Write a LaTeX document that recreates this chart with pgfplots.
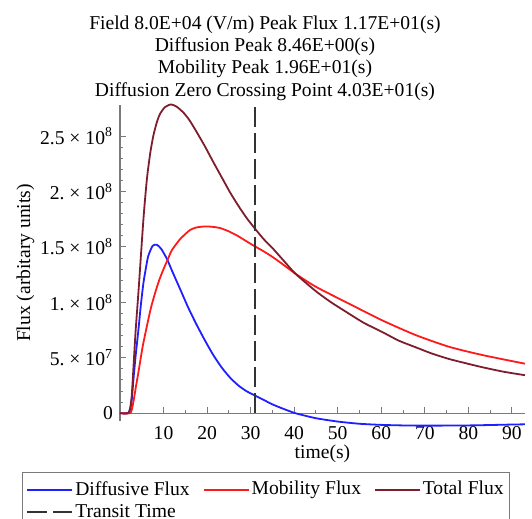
\documentclass[border=0pt]{standalone}
\usepackage{fontspec}
\setmainfont{Liberation Serif}
\usepackage{pgfplots}
\pgfplotsset{compat=1.18}
\definecolor{diffBlue}{HTML}{1F1FFF}
\definecolor{mobRed}{HTML}{FF1A1A}
\definecolor{totMaroon}{HTML}{7E1E2C}
\definecolor{axGrey}{HTML}{7A7A7A}
\definecolor{dashGrey}{HTML}{333333}

\begin{document}
\begin{tikzpicture}[font=\fontsize{9.8pt}{11.2pt}\selectfont]
\begin{axis}[
  width=202.5pt, height=158pt, scale only axis,
  xmin=0, xmax=93, ymin=-7e6, ymax=2.78e8,
  clip=false,
  axis lines=middle,
  axis line style={draw=axGrey, line width=0.7pt, -},
  xtick={10,20,...,90}, minor x tick num=1,
  ytick={0,5e7,1e8,1.5e8,2e8,2.5e8},
  yticklabels={0, 5.~×~10\textsuperscript{7}, 1.~×~10\textsuperscript{8},
    1.5~×~10\textsuperscript{8}, 2.~×~10\textsuperscript{8}, 2.5~×~10\textsuperscript{8}},
  minor y tick num=4,
  scaled y ticks=false,
  hide obscured y ticks=false,
  tick align=inside, major tick length=3pt, minor tick length=1.5pt,
  tick style={axGrey, line width=0.5pt},
  /pgf/number format/assume math mode=true,
  tick label style={font=\fontsize{9.8pt}{11.2pt}\selectfont, black},
  xticklabel style={yshift=-3pt},
  title={Field 8.0E+04 (V/m) Peak Flux 1.17E+01(s)\\Diffusion Peak 8.46E+00(s)\\Mobility Peak 1.96E+01(s)\\Diffusion Zero Crossing Point 4.03E+01(s)},
  every axis title shift=0pt,
  title style={at={(0.5,1)}, anchor=south, align=center, inner sep=0pt, xshift=-28.75pt, yshift=2pt},
  xlabel={time(s)},
  ylabel={Flux (arbitary units)},
  every axis x label/.style={at={(axis description cs:0.5,0)}, anchor=center, yshift=-16.5pt},
  every axis y label/.style={at={(axis description cs:0,0.5)}, anchor=center, rotate=90, yshift=47.25pt},
  legend columns=3,
  legend image code/.code={\draw[#1] (0pt,0pt) -- (22.5pt,0pt);},
  legend style={at={(axis description cs:0,0)}, anchor=north west,
    xshift=-49.15pt, yshift=-25.35pt, draw=axGrey, line width=0.6pt,
    inner xsep=2pt, inner ysep=3.5pt, row sep=1.2pt,
    nodes={inner sep=1pt, anchor=west},
    /tikz/every even column/.append style={column sep=5.5pt}},
]
\addplot[diffBlue, line width=0.9pt, smooth, tension=0.4] coordinates {
  (0,0) (1.8,0) (2.3,0.03e8) (2.7,0.12e8) (3.1,0.31e8) (3.6,0.52e8) (4.25,0.76e8)
  (4.8,0.98e8) (5.4,1.18e8) (6,1.32e8) (6.5,1.42e8) (7.5,1.51e8) (8.46,1.52e8)
  (9.5,1.48e8) (10.8,1.39e8) (12,1.28e8) (13.8,1.12e8) (15.7,0.95e8) (17.7,0.79e8)
  (19.6,0.65e8) (21.5,0.52e8) (23.4,0.41e8) (25.3,0.32e8) (27.2,0.25e8) (29,0.2e8)
  (31,0.16e8) (33,0.12e8) (35,0.08e8) (37.5,0.04e8) (40.3,0) (45,-0.045e8)
  (50,-0.075e8) (55,-0.095e8) (60,-0.105e8) (65,-0.11e8) (70,-0.112e8)
  (80,-0.11e8) (90,-0.102e8) (93,-0.1e8)
};
\addlegendentry{Diffusive Flux}
\addplot[mobRed, line width=0.9pt, smooth, tension=0.4] coordinates {
  (0,0) (2.2,0) (2.7,0.03e8) (3.2,0.13e8) (3.7,0.25e8) (4.25,0.374e8) (5.2,0.6e8)
  (6.2,0.79e8) (7.1,0.95e8) (8.1,1.09e8) (9,1.2e8) (10,1.3e8) (11,1.39e8)
  (11.9,1.47e8) (13.8,1.57e8) (16,1.65e8) (17.5,1.675e8) (19.6,1.685e8)
  (21.5,1.68e8) (23,1.67e8) (25,1.64e8) (27,1.6e8) (29.5,1.54e8) (31.2,1.5e8)
  (33,1.46e8) (35,1.41e8) (37.5,1.34e8) (40.3,1.258e8) (45,1.14e8) (52.5,0.99e8)
  (60.2,0.838e8) (67.9,0.705e8) (75.5,0.6e8) (83.2,0.525e8) (93,0.447e8)
};
\addlegendentry{Mobility Flux}
\addplot[totMaroon, line width=0.9pt, smooth, tension=0.4] coordinates {
  (0,0) (1.8,0) (2.3,0.04e8) (2.7,0.16e8) (3.1,0.42e8) (3.6,0.75e8) (4.25,1.1e8)
  (5.4,1.76e8) (6.2,2.12e8) (7,2.36e8) (7.7,2.51e8) (8.5,2.63e8) (9.2,2.7e8)
  (10.3,2.76e8) (11.7,2.785e8) (13,2.765e8) (14.6,2.71e8) (16,2.64e8)
  (17.7,2.53e8) (19.6,2.4e8) (21.5,2.26e8) (23.4,2.125e8) (25.3,1.99e8)
  (27.2,1.87e8) (29.1,1.76e8) (31.1,1.66e8) (33,1.57e8) (35,1.49e8) (37.5,1.38e8)
  (40.3,1.258e8) (45,1.1e8) (48.5,1.0e8) (52.5,0.9e8) (56,0.815e8) (60.2,0.733e8)
  (64,0.655e8) (67.9,0.595e8) (71.5,0.54e8) (75.5,0.49e8) (79.5,0.45e8)
  (83.2,0.415e8) (88,0.375e8) (93,0.343e8)
};
\addlegendentry{Total Flux}
\addplot[dashGrey, line width=1pt, dash pattern=on 10pt off 3pt] coordinates {
  (31.1,0) (31.1,2.78e8)
};
\addlegendentry{Transit Time}
\path (rel axis cs:0,0) coordinate (O);
\end{axis}
\pgfresetboundingbox
\path (O) ++(-60pt,-49pt) rectangle ++(266pt,259.5pt);
\end{tikzpicture}
\end{document}
